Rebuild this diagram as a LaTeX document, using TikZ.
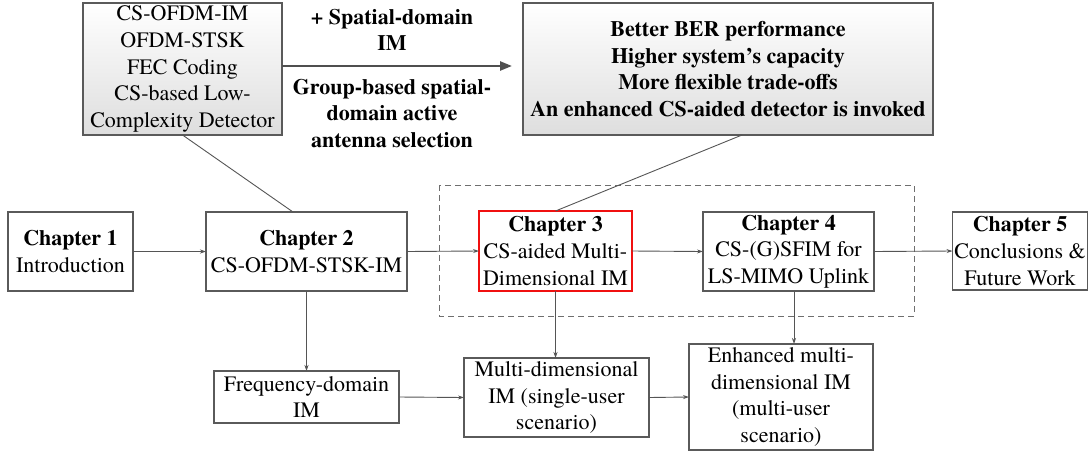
\documentclass[tikz,border=0pt]{standalone}
\usepackage{fontspec}
\setmainfont{texgyretermes-regular.otf}[BoldFont=texgyretermes-bold.otf]
\usetikzlibrary{arrows.meta}

\definecolor{edgegray}{HTML}{555555}
\definecolor{boxgray}{HTML}{5A5A5A}
\definecolor{darkarrow}{HTML}{4F4F4F}
\definecolor{chred}{HTML}{F01010}

\tikzset{
  txt/.style={font=\rmfamily\fontsize{22}{26.7}\selectfont, align=center, inner sep=0pt, outer sep=0pt},
  box/.style={txt, draw=boxgray, line width=1.1pt, fill=white},
  gradbox/.style={txt, draw=boxgray, line width=1.1pt, top color=white, bottom color=black!13},
  redbox/.style={txt, draw=chred, line width=2.6pt, fill=white},
  link/.style={draw=edgegray, line width=0.9pt},
  arrowlink/.style={link, -{Stealth[length=6pt,width=4pt]}},
  bigarrow/.style={draw=darkarrow, line width=2.4pt, -{Triangle[length=12pt,width=9pt]}},
  groupframe/.style={draw=edgegray!85, line width=1pt, dash pattern=on 6pt off 4pt}
}

\begin{document}
\begin{tikzpicture}[x=1pt,y=-1pt]
  \useasboundingbox (0,0) rectangle (1089,453);

  % dashed frame around chapters 3 and 4
  \draw[groupframe] (439,185) rectangle (914,316);

  % top summary boxes
  \node[gradbox, minimum width=199pt, minimum height=132pt] (tl) at (182.5,69)
    {CS-OFDM-IM\\OFDM-STSK\\FEC Coding\\CS-based Low-\\Complexity Detector};
  \node[gradbox, minimum width=410pt, minimum height=132pt] (tr) at (728,69)
    {\bfseries Better BER performance\\\bfseries Higher system’s capacity\\\bfseries More flexible trade-offs\\\bfseries An enhanced CS-aided detector is invoked};

  % labels on the extension arrow
  \node[txt, font=\rmfamily\fontsize{22}{26.7}\selectfont\bfseries] (labup) at (392,30)
    {+ Spatial-domain\\IM};
  \node[txt, font=\rmfamily\fontsize{22}{26.7}\selectfont\bfseries] (labdown) at (392,113.5)
    {Group-based spatial-\\domain active\\antenna selection};

  % chapter boxes
  \node[box, minimum width=125pt, minimum height=79pt] (ch1) at (70.5,251.5)
    {\textbf{Chapter 1}\\Introduction};
  \node[box, minimum width=201pt, minimum height=79pt] (ch2) at (306.5,251.5)
    {\textbf{Chapter 2}\\CS-OFDM-STSK-IM};
  \node[redbox, minimum width=153pt, minimum height=80pt] (ch3) at (555.5,251)
    {\textbf{Chapter 3}\\CS-aided Multi-\\Dimensional IM};
  \node[box, minimum width=171pt, minimum height=79pt] (ch4) at (788.5,251.5)
    {\textbf{Chapter 4}\\CS-(G)SFIM for\\LS-MIMO Uplink};
  \node[box, minimum width=135pt, minimum height=78pt] (ch5) at (1020,251)
    {\textbf{Chapter 5}\\Conclusions \&\\Future Work};

  % bottom boxes
  \node[box, minimum width=185pt, minimum height=52pt] (freq) at (306.5,397)
    {Frequency-domain\\IM};
  \node[box, minimum width=185pt, minimum height=79pt] (multi) at (556.5,397.5)
    {Multi-dimensional\\IM (single-user\\scenario)};
  \node[box, minimum width=184pt, minimum height=106pt] (enh) at (781,397)
    {Enhanced multi-\\dimensional IM\\(multi-user\\scenario)};

  % thick extension arrow
  \coordinate (bigtip) at (512,66);
  \draw[bigarrow] (tl.east |- bigtip) -- (bigtip);

  % callout lines
  \draw[link] (tl.south) -- ([xshift=-13.5pt]ch2.north);
  \draw[link] ([xshift=14pt]tr.south) -- (ch3.north);

  % chapter flow
  \draw[arrowlink] (ch1.east) -- (ch2.west);
  \draw[arrowlink] (ch2.east) -- (ch3.west);
  \draw[arrowlink] (ch3.east) -- (ch4.west);
  \draw[arrowlink] (ch4.east) -- (ch5.west);

  % downward links
  \draw[arrowlink] (ch2.south) -- (freq.north);
  \draw[arrowlink] (ch3.south) -- (ch3.south |- multi.north);
  \draw[arrowlink] ([xshift=5.5pt]ch4.south) -- ([xshift=5.5pt]ch4.south |- enh.north);

  % bottom flow
  \draw[arrowlink] (freq.east) -- (multi.west);
  \draw[arrowlink] (multi.east) -- (enh.west);
\end{tikzpicture}
\end{document}
